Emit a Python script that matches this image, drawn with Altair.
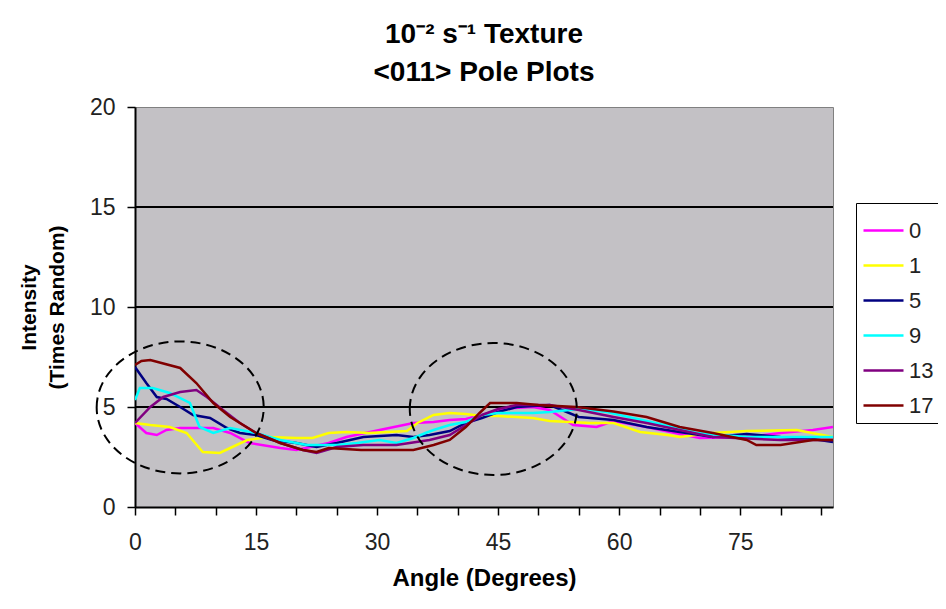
import altair as alt
import pandas as pd

# ---------------- data ----------------
series_names = ["0", "1", "5", "9", "13", "17"]
series_colors = ["#FF00FF", "#FFFF00", "#000080", "#00FFFF", "#800080", "#800000"]

x_0 = [0, 1.4, 2.7, 3.9, 5.6, 9.7, 11.8, 14.2, 18, 20, 21.7, 24, 26.2, 30.3, 34.5, 37, 39, 41, 43, 45, 47,
       49.3, 51.4, 54.3, 57.2, 59.3, 63.4, 67.5, 70, 75.8, 80, 84, 86.5]
y_0 = [4.2, 3.7, 3.6, 3.85, 3.95, 3.95, 3.7, 3.2, 2.95, 2.85, 3.0, 3.2, 3.5, 3.85, 4.2, 4.25, 4.35, 4.4, 4.6,
       4.85, 4.95, 5.0, 4.85, 4.1, 4.0, 4.3, 4.0, 3.65, 3.45, 3.5, 3.7, 3.85, 4.0]

x_1 = [0, 1.9, 4.3, 6.4, 8.4, 10.5, 11.8, 13.9, 16.7, 20, 22, 24, 26.2, 29, 33.7, 35, 37, 39, 41, 43, 45,
       49.3, 51.4, 56.4, 59.3, 62.6, 66, 67.5, 71.6, 75.8, 82, 86.5]
y_1 = [4.2, 4.1, 4.0, 3.7, 2.75, 2.7, 2.95, 3.35, 3.5, 3.45, 3.45, 3.7, 3.75, 3.7, 3.8, 4.2, 4.6, 4.7, 4.65,
       4.55, 4.55, 4.45, 4.3, 4.2, 4.2, 3.75, 3.6, 3.5, 3.7, 3.8, 3.85, 3.5]

x_5 = [0, 1.4, 2.7, 3.9, 5.6, 7.2, 9.3, 11.4, 13, 15, 17, 20, 22.5, 25, 28.3, 32.4, 34.5, 36.5, 39, 41, 43,
       45, 47.3, 51.4, 55, 59.3, 63.4, 67.5, 71.6, 75.8, 80, 84, 86.5]
y_5 = [7.0, 6.2, 5.5, 5.4, 5.0, 4.6, 4.45, 3.95, 3.7, 3.6, 3.35, 3.2, 3.0, 3.2, 3.5, 3.6, 3.5, 3.6, 3.8, 4.2,
       4.45, 4.75, 5.0, 5.1, 4.5, 4.35, 4.0, 3.75, 3.5, 3.65, 3.5, 3.4, 3.25]

x_9 = [0, 0.6, 2.2, 4.3, 6.8, 8, 9.7, 11.8, 15, 18, 21.3, 25, 27.5, 30.3, 32.4, 34.5, 36, 37, 39, 41, 43,
       45, 49.3, 51.4, 55, 58.5, 61.7, 66.7, 69.6, 75.8, 80, 86.5]
y_9 = [5.35, 5.95, 5.95, 5.7, 5.2, 4.0, 3.7, 3.95, 3.7, 3.35, 3.1, 3.1, 3.2, 3.35, 3.2, 3.45, 3.7, 3.85, 4.1,
       4.25, 4.6, 4.7, 4.7, 4.75, 4.9, 4.75, 4.45, 4.0, 3.7, 3.5, 3.5, 3.5]

x_13 = [0, 1.9, 3.5, 5.6, 7.6, 8.9, 10.9, 13, 15, 18, 20.8, 22.5, 25, 28.3, 32.4, 36.5, 39, 41, 43, 45,
        47.3, 51.4, 55, 59.3, 63.4, 67.5, 71.6, 80, 86.5]
y_13 = [4.2, 5.0, 5.5, 5.75, 5.85, 5.5, 4.85, 4.2, 3.7, 3.2, 2.85, 2.7, 3.0, 3.1, 3.1, 3.35, 3.6, 4.1, 4.6,
        4.9, 5.1, 5.1, 4.85, 4.5, 4.2, 3.85, 3.5, 3.35, 3.35]

x_17 = [0, 0.8, 1.9, 5.6, 7.6, 9.7, 11.8, 15, 18, 20.8, 22.5, 24, 28, 30.7, 34.5, 36, 37, 39, 41, 42.7, 44,
        47.3, 50, 54.7, 59.3, 63.4, 67.5, 71.6, 75.8, 77, 80, 84, 86.5]
y_17 = [7.1, 7.3, 7.35, 6.95, 6.2, 5.2, 4.5, 3.7, 3.2, 2.85, 2.75, 2.95, 2.85, 2.85, 2.85, 3.0, 3.1, 3.35,
        4.0, 4.7, 5.2, 5.2, 5.1, 5.0, 4.77, 4.5, 4.0, 3.7, 3.35, 3.1, 3.1, 3.35, 3.35]

grid_values = [5, 10, 15]
y_ticks = [0, 5, 10, 15, 20]
x_ticks = [i * 2.5 for i in range(35)]

# annotation ellipses (centres in data units)
ellipse_x = [5.6, 44.4]
ellipse_y = [4.98, 4.9]

# ---------------- build table ----------------
xs = [x_0, x_1, x_5, x_9, x_13, x_17]
ys = [y_0, y_1, y_5, y_9, y_13, y_17]
rows = []
for name, xv, yv in zip(series_names, xs, ys):
    for a, b in zip(xv, yv):
        rows.append({"angle": a, "intensity": b, "series": name})
df = pd.DataFrame(rows)

FONT = "Liberation Sans"
xscale = alt.Scale(domain=[0, 86.5], nice=False, zero=False)
yscale = alt.Scale(domain=[0, 20], nice=False)

grid = alt.Chart(pd.DataFrame({"g": grid_values})).mark_rule(
    color="black", strokeWidth=2
).encode(y=alt.Y("g:Q", scale=yscale))

lines = alt.Chart(df).mark_line(strokeWidth=2.5, clip=True).encode(
    x=alt.X(
        "angle:Q",
        scale=xscale,
        axis=alt.Axis(
            title="Angle (Degrees)",
            values=x_ticks,
            labelExpr="datum.value % 15 === 0 ? format(datum.value, 'd') : ''",
            grid=False,
            tickSize=8,
            tickWidth=1.5,
            tickColor="black",
            domainColor="black",
            domainWidth=2,
            labelFontSize=23,
            labelFont=FONT,
            labelColor="#222222",
            labelPadding=16,
            labelFlush=False,
            titleFont=FONT,
            titleFontSize=24,
            titleFontWeight="bold",
            titlePadding=12,
            titleColor="black",
        ),
    ),
    y=alt.Y(
        "intensity:Q",
        scale=yscale,
        axis=alt.Axis(
            title=["Intensity", "(Times Random)"],
            values=y_ticks,
            grid=False,
            tickSize=8,
            tickWidth=1.5,
            tickColor="black",
            domainColor="black",
            domainWidth=2,
            labelFontSize=23,
            labelFont=FONT,
            labelColor="#222222",
            labelPadding=12,
            titleFont=FONT,
            titleFontSize=21,
            titleFontWeight="bold",
            titleLineHeight=28,
            titlePadding=22,
            titleColor="black",
        ),
    ),
    color=alt.Color(
        "series:N",
        scale=alt.Scale(domain=series_names, range=series_colors),
        legend=alt.Legend(
            title=None,
            orient="none",
            legendX=721,
            legendY=96,
            fillColor="white",
            strokeColor="black",
            padding=6,
            symbolType="stroke",
            symbolSize=1600,
            symbolStrokeWidth=2.5,
            labelFontSize=22,
            labelFont=FONT,
            labelColor="#222222",
            labelOffset=4,
            rowPadding=2,
        ),
    ),
    order=alt.Order("angle:Q"),
)

ellipse_path = "M -1 0 A 1 0.79 0 1 1 1 0 A 1 0.79 0 1 1 -1 0 Z"
ellipses = alt.Chart(pd.DataFrame({"cx": ellipse_x, "cy": ellipse_y})).mark_point(
    shape=ellipse_path,
    size=27900,
    filled=False,
    stroke="black",
    strokeWidth=2,
    strokeDash=[10, 6],
    opacity=1,
).encode(x=alt.X("cx:Q", scale=xscale), y=alt.Y("cy:Q", scale=yscale))

chart = alt.layer(grid, lines, ellipses).properties(
    width=698,
    height=400,
    background="white",
    title=alt.Title(
        ["10⁻² s⁻¹ Texture", "<011> Pole Plots"],
        font=FONT,
        fontSize=28,
        fontWeight="bold",
        lineHeight=38,
        offset=9,
        anchor="middle",
        color="black",
    ),
    autosize=alt.AutoSizeParams(type="none"),
    padding={"left": 127, "top": 99, "right": 105, "bottom": 94},
).configure_view(
    fill="#C3C1C5", stroke="#808080", strokeWidth=1
)

chart.save("out.html", embed_options={"renderer": "svg", "actions": False})
